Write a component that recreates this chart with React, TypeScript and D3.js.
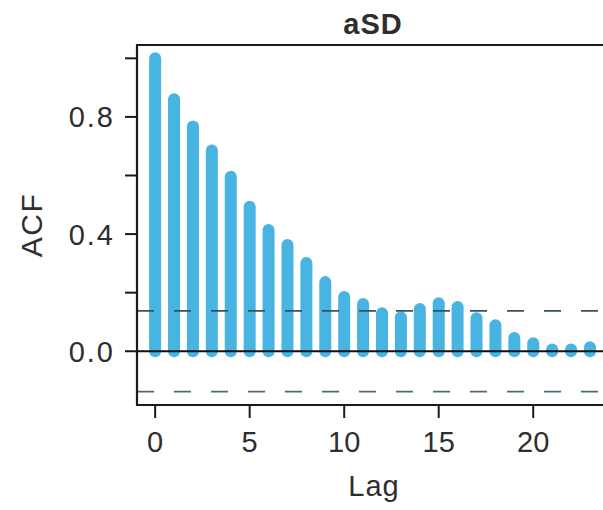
import React from "react";
import * as d3 from "d3";

const lags = [0, 1, 2, 3, 4, 5, 6, 7, 8, 9, 10, 11, 12, 13, 14, 15, 16, 17, 18, 19, 20, 21, 22, 23];
const acfValues = [1.0, 0.86, 0.767, 0.685, 0.596, 0.493, 0.414, 0.363, 0.301, 0.236, 0.185, 0.161, 0.13, 0.116, 0.144, 0.164, 0.151, 0.113, 0.089, 0.045, 0.027, 0.006, 0.006, 0.014];
const ciBound = 0.138;
const xTicks = [0, 5, 10, 15, 20];
const yTicks = [0, 0.2, 0.4, 0.6, 0.8, 1.0];
const yTickLabels = ["0.0", "", "0.4", "", "0.8", ""];
const title = "aSD";
const xLabel = "Lag";
const yLabel = "ACF";

const W = 603;
const H = 510;
const left = 137;
const top = 45;
const bottom = 405;
const right = 627;

const FONT = "'Liberation Sans', Arial, Helvetica, sans-serif";
const TEXT = "#2e2e2e";
const BAR = "#48b4e1";

export default function App() {
  const x = d3.scaleLinear().domain([-0.96, 24.96]).range([left, right]);
  const y = d3.scaleLinear().domain([-0.1835, 1.0455]).range([bottom, top]);
  const bars = lags.map((l, i) => ({ lag: l, v: acfValues[i] }));

  return (
    <div style={{ position: "absolute", left: 0, top: 0 }}>
      <svg width={W} height={H} style={{ display: "block", background: "#fff" }}>
        {bars.map((b) => (
          <line
            key={b.lag}
            x1={x(b.lag)}
            x2={x(b.lag)}
            y1={y(0)}
            y2={y(b.v)}
            stroke={BAR}
            strokeWidth={12}
            strokeLinecap="round"
          />
        ))}
        <line x1={left} x2={W} y1={y(0)} y2={y(0)} stroke="#111" strokeWidth={2.2} />
        <line x1={left} x2={W} y1={y(ciBound)} y2={y(ciBound)} stroke="#3a525c" strokeWidth={1.6} strokeDasharray="17 20" />
        <line x1={left} x2={W} y1={y(-ciBound)} y2={y(-ciBound)} stroke="#4b6a75" strokeWidth={1.6} strokeDasharray="17 20" />
        <path
          d={`M${right},${top}H${left}V${bottom}H${right}V${top}`}
          fill="none"
          stroke="#1a1a1a"
          strokeWidth={2.2}
        />
        {yTicks.map((t, i) => (
          <g key={t}>
            <line x1={left - 12} x2={left} y1={y(t)} y2={y(t)} stroke="#1a1a1a" strokeWidth={2} />
            {yTickLabels[i] && (
              <text
                x={115}
                y={y(t)}
                dy="0.36em"
                textAnchor="end"
                fontFamily={FONT}
                fontSize={29}
                letterSpacing={2}
                fill={TEXT}
              >
                {yTickLabels[i]}
              </text>
            )}
          </g>
        ))}
        {xTicks.map((t) => (
          <g key={t}>
            <line x1={x(t)} x2={x(t)} y1={bottom} y2={bottom + 13} stroke="#1a1a1a" strokeWidth={2} />
            <text x={x(t)} y={452} textAnchor="middle" fontFamily={FONT} fontSize={29} fill={TEXT}>
              {t}
            </text>
          </g>
        ))}
        <text x={373} y={34} textAnchor="middle" fontFamily={FONT} fontSize={29} letterSpacing={1} fontWeight="bold" fill={TEXT}>
          {title}
        </text>
        <text x={374} y={496} textAnchor="middle" fontFamily={FONT} fontSize={29} letterSpacing={1} fill={TEXT}>
          {xLabel}
        </text>
        <text
          transform={`translate(42,${(top + bottom) / 2}) rotate(-90)`}
          textAnchor="middle"
          fontFamily={FONT}
          fontSize={30}
          letterSpacing={1.5}
          fill={TEXT}
        >
          {yLabel}
        </text>
      </svg>
    </div>
  );
}
